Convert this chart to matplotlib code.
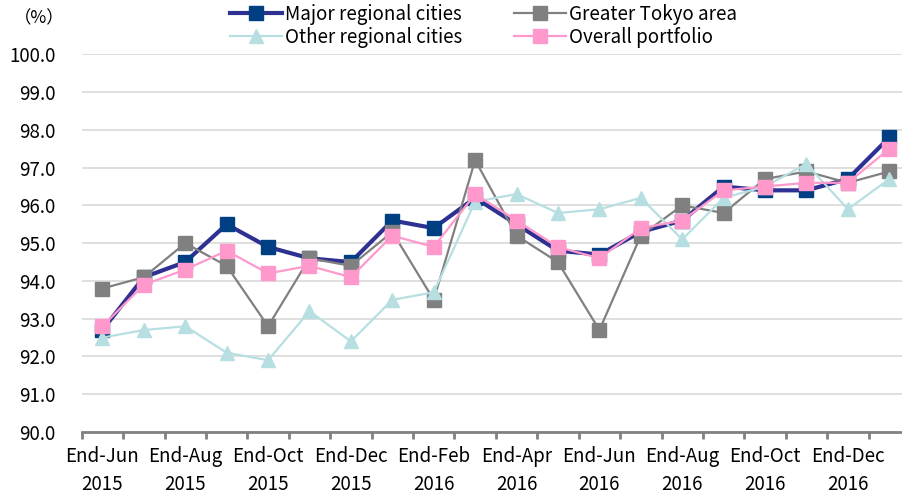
import matplotlib
matplotlib.use("Agg")
import matplotlib.pyplot as plt
import numpy as np

plt.rcParams['font.family'] = ['Noto Sans CJK JP', 'DejaVu Sans']

# categories (month-end), labels shown on every other month
months = ["End-Jun\n2015", "End-Jul\n2015", "End-Aug\n2015", "End-Sep\n2015",
          "End-Oct\n2015", "End-Nov\n2015", "End-Dec\n2015", "End-Jan\n2016",
          "End-Feb\n2016", "End-Mar\n2016", "End-Apr\n2016", "End-May\n2016",
          "End-Jun\n2016", "End-Jul\n2016", "End-Aug\n2016", "End-Sep\n2016",
          "End-Oct\n2016", "End-Nov\n2016", "End-Dec\n2016", "End-Jan\n2017"]

major = [92.7, 94.1, 94.5, 95.5, 94.9, 94.6, 94.5, 95.6, 95.4, 96.2,
         95.5, 94.8, 94.7, 95.3, 95.6, 96.5, 96.4, 96.4, 96.7, 97.8]
tokyo = [93.8, 94.1, 95.0, 94.4, 92.8, 94.6, 94.4, 95.3, 93.5, 97.2,
         95.2, 94.5, 92.7, 95.2, 96.0, 95.8, 96.7, 96.9, 96.6, 96.9]
other = [92.5, 92.7, 92.8, 92.1, 91.9, 93.2, 92.4, 93.5, 93.7, 96.1,
         96.3, 95.8, 95.9, 96.2, 95.1, 96.2, 96.5, 97.1, 95.9, 96.7]
overall = [92.8, 93.9, 94.3, 94.8, 94.2, 94.4, 94.1, 95.2, 94.9, 96.3,
           95.6, 94.9, 94.6, 95.4, 95.6, 96.4, 96.5, 96.6, 96.6, 97.5]

x = np.arange(len(months))
FS = 13.5

fig = plt.figure(figsize=(9.02, 4.97), dpi=100)
ax = fig.add_axes([81.7 / 902, 65 / 497, 828.3 / 902, 377.6 / 497])

l1, = ax.plot(x, major, color='#2E3192', lw=3, marker='s', ms=9.5,
              mfc='#003F82', mec='#003F82', label='Major regional cities', zorder=3)
l2, = ax.plot(x, tokyo, color='#808080', lw=1.6, marker='s', ms=9.5,
              mfc='#808080', mec='#808080', label='Greater Tokyo area', zorder=4)
l3, = ax.plot(x, other, color='#B7DFE2', lw=1.6, marker='^', ms=10,
              mfc='#B7DFE2', mec='#B7DFE2', label='Other regional cities', zorder=5)
l4, = ax.plot(x, overall, color='#FF99CC', lw=1.6, marker='s', ms=9.5,
              mfc='#FF99CC', mec='#FF99CC', label='Overall portfolio', zorder=6)

ax.set_xlim(-0.5, len(months) - 0.5)
ax.set_ylim(90, 100)
ax.set_yticks(np.arange(90, 100.1, 1.0))
ax.set_yticklabels([f"{v:.1f}" for v in np.arange(90, 100.1, 1.0)], fontsize=FS)
ax.tick_params(axis='y', length=0, pad=19)
for yv in np.arange(91, 100.1, 1.0):
    ax.axhline(yv, color='#D9D9D9', lw=1.2, zorder=1)

ax.set_xticks(x[::2])
ax.set_xticklabels(months[::2], fontsize=FS, linespacing=1.45)
ax.set_xticks(np.arange(-0.5, len(months), 1.0), minor=True)
ax.tick_params(axis='x', which='major', length=0, pad=10)
ax.tick_params(axis='x', which='minor', length=5, width=2, color='#808080')

for s in ['left', 'right', 'top']:
    ax.spines[s].set_visible(False)
ax.spines['bottom'].set_color('#808080')
ax.spines['bottom'].set_linewidth(2)

fig.text(39 / 902, 1 - 18 / 497, "（%）", fontsize=FS - 1, ha='center', va='center')

fig.legend(handles=[l1, l3, l2, l4], ncol=2, loc='upper left',
           bbox_to_anchor=(222 / 902, 1.008), frameon=False, fontsize=FS,
           handlelength=2.8, handletextpad=0.15, columnspacing=2.75,
           labelspacing=0.12, borderaxespad=0)

fig.savefig("out.png", dpi=100)
